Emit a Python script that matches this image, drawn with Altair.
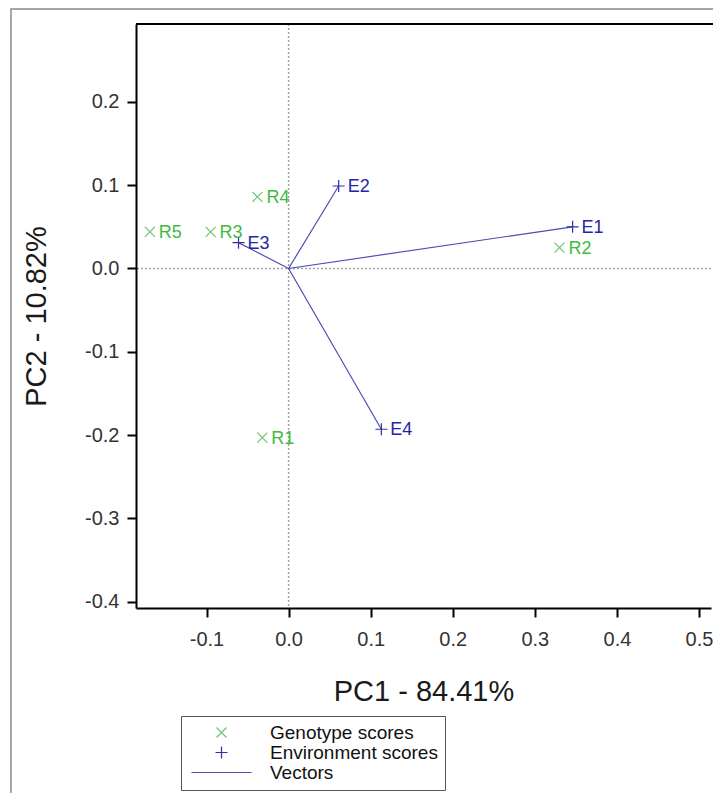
import altair as alt
import pandas as pd

# ---- data ----
genotypes = ["R1", "R2", "R3", "R4", "R5"]
geno_pc1 = [-0.032, 0.330, -0.095, -0.038, -0.169]
geno_pc2 = [-0.203, 0.025, 0.044, 0.086, 0.044]

environments = ["E1", "E2", "E3", "E4"]
env_pc1 = [0.346, 0.061, -0.061, 0.113]
env_pc2 = [0.050, 0.099, 0.031, -0.193]

x_ticks = [-0.1, 0.0, 0.1, 0.2, 0.3, 0.4, 0.5]
y_ticks = [-0.4, -0.3, -0.2, -0.1, 0.0, 0.1, 0.2]
x_domain = [-0.1859, 0.5146]
y_domain = [-0.4076, 0.2935]

legend_items = ["Genotype scores", "Environment scores", "Vectors"]

# ---- styling ----
FONT = "Liberation Sans"
GREEN_MARK = "#6cc46c"
GREEN_TEXT = "#3fba3f"
BLUE_MARK = "#2e2ea6"
BLUE_TEXT = "#2525a8"
BLUE_LINE = "#4c4cb6"

X_PATH = "M-1,-1L1,1M1,-1L-1,1"
PLUS_PATH = "M-1.2,0L1.2,0M0,-1.2L0,1.2"
LINE_PATH = "M-6,0L6,0"

geno_df = pd.DataFrame({"name": genotypes, "PC1": geno_pc1, "PC2": geno_pc2,
                        "type": legend_items[0]})
env_df = pd.DataFrame({"name": environments, "PC1": env_pc1, "PC2": env_pc2,
                       "type": legend_items[1]})
env_df["x0"] = 0.0
env_df["y0"] = 0.0
points_df = pd.concat([geno_df, env_df[["name", "PC1", "PC2", "type"]]], ignore_index=True)

minus_fix = "replace(format(datum.value, '.1f'), '\u2212', '-')"

x_scale = alt.Scale(domain=x_domain, nice=False, zero=False)
y_scale = alt.Scale(domain=y_domain, nice=False, zero=False)

x_axis = alt.Axis(values=x_ticks, labelExpr=minus_fix, grid=False, zindex=2,
                  domainColor="black", domainWidth=2, tickColor="black", tickWidth=2,
                  tickSize=9, labelFontSize=20, labelColor="#333", labelFont=FONT,
                  labelPadding=12, title="PC1 - 84.41%", titleFontSize=29,
                  titleFontWeight="normal", titleFont=FONT, titleColor="#1a1a1a",
                  titleY=83, titleBaseline="middle", labelFlush=False)
y_axis = alt.Axis(values=y_ticks, labelExpr=minus_fix, grid=False, zindex=2,
                  domainColor="black", domainWidth=2, tickColor="black", tickWidth=2,
                  tickSize=9, labelFontSize=20, labelColor="#333", labelFont=FONT,
                  labelPadding=8, title="PC2 - 10.82%", titleFontSize=29,
                  titleFontWeight="normal", titleFont=FONT, titleColor="#1a1a1a",
                  titleX=-100, titleY=292, titleAngle=270, titleAlign="center",
                  titleBaseline="middle", labelFlush=False)

legend_def = alt.Legend(title=None, orient="none", legendX=45, legendY=692,
                        labelFontSize=19, labelFont=FONT, labelColor="#111",
                        labelLimit=400, symbolSize=100, symbolOffset=24,
                        labelOffset=39, rowPadding=0,
                        symbolStrokeWidth=1.2, padding=7, strokeColor="#555")

one = pd.DataFrame({"a": [0]})

frame = alt.Chart(one).mark_rect(fill="transparent", stroke="#8a8a8a", strokeWidth=1.5).encode(
    x=alt.value(-125), y=alt.value(-15), x2=alt.value(1200), y2=alt.value(1200))

zero_x = alt.Chart(one).mark_rule(color="#a0a0a0", strokeDash=[2, 2], strokeWidth=1.5).encode(
    x=alt.datum(0, scale=x_scale, axis=x_axis))
zero_y = alt.Chart(one).mark_rule(color="#a0a0a0", strokeDash=[2, 2], strokeWidth=1.5).encode(
    y=alt.datum(0, scale=y_scale, axis=y_axis))

top_border = alt.Chart(one).mark_rule(color="black", strokeWidth=2).encode(
    y=alt.value(0), x=alt.value(0), x2=alt.value(600))

vectors = alt.Chart(env_df).mark_rule(color=BLUE_LINE, strokeWidth=1.2).encode(
    x=alt.X("x0:Q", scale=x_scale, axis=x_axis),
    y=alt.Y("y0:Q", scale=y_scale, axis=y_axis),
    x2="PC1:Q", y2="PC2:Q")

points = alt.Chart(points_df).mark_point(filled=False, size=100, strokeWidth=1.2, opacity=1).encode(
    x=alt.X("PC1:Q", scale=x_scale, axis=x_axis),
    y=alt.Y("PC2:Q", scale=y_scale, axis=y_axis),
    shape=alt.Shape("type:N", scale=alt.Scale(domain=legend_items,
                                              range=[X_PATH, PLUS_PATH, LINE_PATH]),
                    legend=legend_def),
    color=alt.Color("type:N", scale=alt.Scale(domain=legend_items,
                                              range=[GREEN_MARK, BLUE_MARK, BLUE_LINE]),
                    legend=legend_def),
)

geno_labels = alt.Chart(geno_df).mark_text(align="left", baseline="middle", dx=9, dy=1,
                                           fontSize=18, font=FONT, color=GREEN_TEXT).encode(
    x=alt.X("PC1:Q", scale=x_scale, axis=x_axis),
    y=alt.Y("PC2:Q", scale=y_scale, axis=y_axis),
    text="name:N")
env_labels = alt.Chart(env_df).mark_text(align="left", baseline="middle", dx=9, dy=1,
                                         fontSize=18, font=FONT, color=BLUE_TEXT).encode(
    x=alt.X("PC1:Q", scale=x_scale, axis=x_axis),
    y=alt.Y("PC2:Q", scale=y_scale, axis=y_axis),
    text="name:N")

chart = alt.layer(frame, zero_x, zero_y, vectors, points, geno_labels, env_labels,
                  top_border).properties(
    width=575, height=584,
    autosize=alt.AutoSizeParams(type="none"),
    padding={"left": 128, "top": 16, "right": 2, "bottom": 185},
    background="white",
).configure_view(stroke=None).configure_legend(strokeWidth=1)

chart.save("out.html", embed_options={"renderer": "svg", "actions": False})
